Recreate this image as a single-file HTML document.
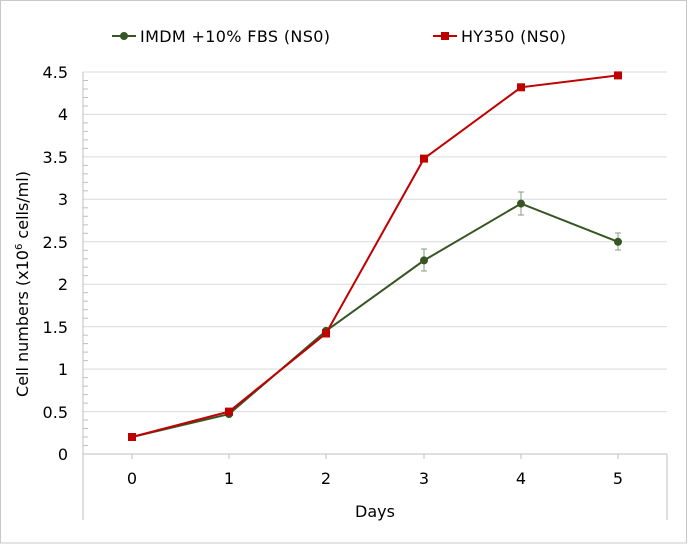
<!DOCTYPE html>
<html><head><style>body{margin:0;background:#fff}svg{display:block}text{font-family:"DejaVu Sans","Liberation Sans",sans-serif;fill:#000}</style></head><body>
<svg width="688" height="544" viewBox="0 0 688 544">
<rect x="0.5" y="0.5" width="686" height="542.5" fill="#fff" stroke="#c8c8c8"/>
<g stroke="#d9d9d9" stroke-width="1">
<line x1="83" x2="667" y1="72" y2="72"/><line x1="83" x2="667" y1="114.4" y2="114.4"/><line x1="83" x2="667" y1="156.9" y2="156.9"/><line x1="83" x2="667" y1="199.3" y2="199.3"/><line x1="83" x2="667" y1="241.8" y2="241.8"/><line x1="83" x2="667" y1="284.2" y2="284.2"/><line x1="83" x2="667" y1="326.7" y2="326.7"/><line x1="83" x2="667" y1="369.1" y2="369.1"/><line x1="83" x2="667" y1="411.6" y2="411.6"/>
</g>
<g stroke="#bfbfbf"><line x1="83" x2="667" y1="454" y2="454"/><line x1="83" x2="83" y1="72" y2="520"/><line x1="667" x2="667" y1="454" y2="520"/>
<line x1="83" x2="88" y1="80.5" y2="80.5"/><line x1="83" x2="88" y1="89" y2="89"/><line x1="83" x2="88" y1="97.5" y2="97.5"/><line x1="83" x2="88" y1="106" y2="106"/><line x1="83" x2="88" y1="122.9" y2="122.9"/><line x1="83" x2="88" y1="131.4" y2="131.4"/><line x1="83" x2="88" y1="139.9" y2="139.9"/><line x1="83" x2="88" y1="148.4" y2="148.4"/><line x1="83" x2="88" y1="165.4" y2="165.4"/><line x1="83" x2="88" y1="173.9" y2="173.9"/><line x1="83" x2="88" y1="182.4" y2="182.4"/><line x1="83" x2="88" y1="190.8" y2="190.8"/><line x1="83" x2="88" y1="207.8" y2="207.8"/><line x1="83" x2="88" y1="216.3" y2="216.3"/><line x1="83" x2="88" y1="224.8" y2="224.8"/><line x1="83" x2="88" y1="233.3" y2="233.3"/><line x1="83" x2="88" y1="250.3" y2="250.3"/><line x1="83" x2="88" y1="258.8" y2="258.8"/><line x1="83" x2="88" y1="267.2" y2="267.2"/><line x1="83" x2="88" y1="275.7" y2="275.7"/><line x1="83" x2="88" y1="292.7" y2="292.7"/><line x1="83" x2="88" y1="301.2" y2="301.2"/><line x1="83" x2="88" y1="309.7" y2="309.7"/><line x1="83" x2="88" y1="318.2" y2="318.2"/><line x1="83" x2="88" y1="335.2" y2="335.2"/><line x1="83" x2="88" y1="343.6" y2="343.6"/><line x1="83" x2="88" y1="352.1" y2="352.1"/><line x1="83" x2="88" y1="360.6" y2="360.6"/><line x1="83" x2="88" y1="377.6" y2="377.6"/><line x1="83" x2="88" y1="386.1" y2="386.1"/><line x1="83" x2="88" y1="394.6" y2="394.6"/><line x1="83" x2="88" y1="403.1" y2="403.1"/><line x1="83" x2="88" y1="420" y2="420"/><line x1="83" x2="88" y1="428.5" y2="428.5"/><line x1="83" x2="88" y1="437" y2="437"/><line x1="83" x2="88" y1="445.5" y2="445.5"/>
<line x1="132" x2="132" y1="454" y2="459"/><line x1="229" x2="229" y1="454" y2="459"/><line x1="326" x2="326" y1="454" y2="459"/><line x1="424" x2="424" y1="454" y2="459"/><line x1="521" x2="521" y1="454" y2="459"/><line x1="618" x2="618" y1="454" y2="459"/>
</g>
<g font-size="16" text-anchor="end">
<text x="68" y="78">4.5</text><text x="68" y="120">4</text><text x="68" y="163">3.5</text><text x="68" y="205">3</text><text x="68" y="248">2.5</text><text x="68" y="290">2</text><text x="68" y="333">1.5</text><text x="68" y="375">1</text><text x="68" y="418">0.5</text><text x="68" y="460">0</text>
</g>
<g font-size="16" text-anchor="middle">
<text x="132" y="484">0</text><text x="229" y="484">1</text><text x="326" y="484">2</text><text x="424" y="484">3</text><text x="521" y="484">4</text><text x="618" y="484">5</text>
<text x="375" y="517">Days</text>
</g>
<text font-size="16" text-anchor="middle" transform="translate(28,284) rotate(-90)">Cell numbers (x10<tspan font-size="10" dy="-6">6</tspan><tspan dy="6"> cells/ml)</tspan></text>
<g stroke="#8a9c80" stroke-width="1">
<line x1="424" x2="424" y1="249" y2="271"/><line x1="421" x2="427" y1="249" y2="249"/><line x1="421" x2="427" y1="271" y2="271"/>
<line x1="521" x2="521" y1="192" y2="215"/><line x1="518" x2="524" y1="192" y2="192"/><line x1="518" x2="524" y1="215" y2="215"/>
<line x1="618" x2="618" y1="233" y2="250"/><line x1="615" x2="621" y1="233" y2="233"/><line x1="615" x2="621" y1="250" y2="250"/>
</g>
<polyline fill="none" stroke="#375623" stroke-width="2" points="132,437 229,414.1 326,330.9 424,260.4 521,203.6 618,241.8"/>
<g fill="#375623"><circle cx="132" cy="437" r="4"/><circle cx="229" cy="414.1" r="4"/><circle cx="326" cy="330.9" r="4"/><circle cx="424" cy="260.4" r="4"/><circle cx="521" cy="203.6" r="4"/><circle cx="618" cy="241.8" r="4"/></g>
<polyline fill="none" stroke="#c00000" stroke-width="2" points="132,437 229,411.6 326,333.5 424,158.6 521,87.3 618,75.4"/>
<g fill="#c00000"><rect x="128" y="433" width="8" height="8"/><rect x="225" y="407.6" width="8" height="8"/><rect x="322" y="329.5" width="8" height="8"/><rect x="420" y="154.6" width="8" height="8"/><rect x="517" y="83.3" width="8" height="8"/><rect x="614" y="71.4" width="8" height="8"/></g>
<line x1="112" x2="136" y1="36" y2="36" stroke="#375623" stroke-width="2"/><circle cx="124" cy="36" r="4" fill="#375623"/>
<text x="140" y="42" font-size="16" textLength="190">IMDM +10% FBS (NS0)</text>
<line x1="433" x2="457" y1="36" y2="36" stroke="#c00000" stroke-width="2"/><rect x="441" y="32" width="8" height="8" fill="#c00000"/>
<text x="461" y="42" font-size="16" textLength="105">HY350 (NS0)</text>
</svg>
</body></html>
